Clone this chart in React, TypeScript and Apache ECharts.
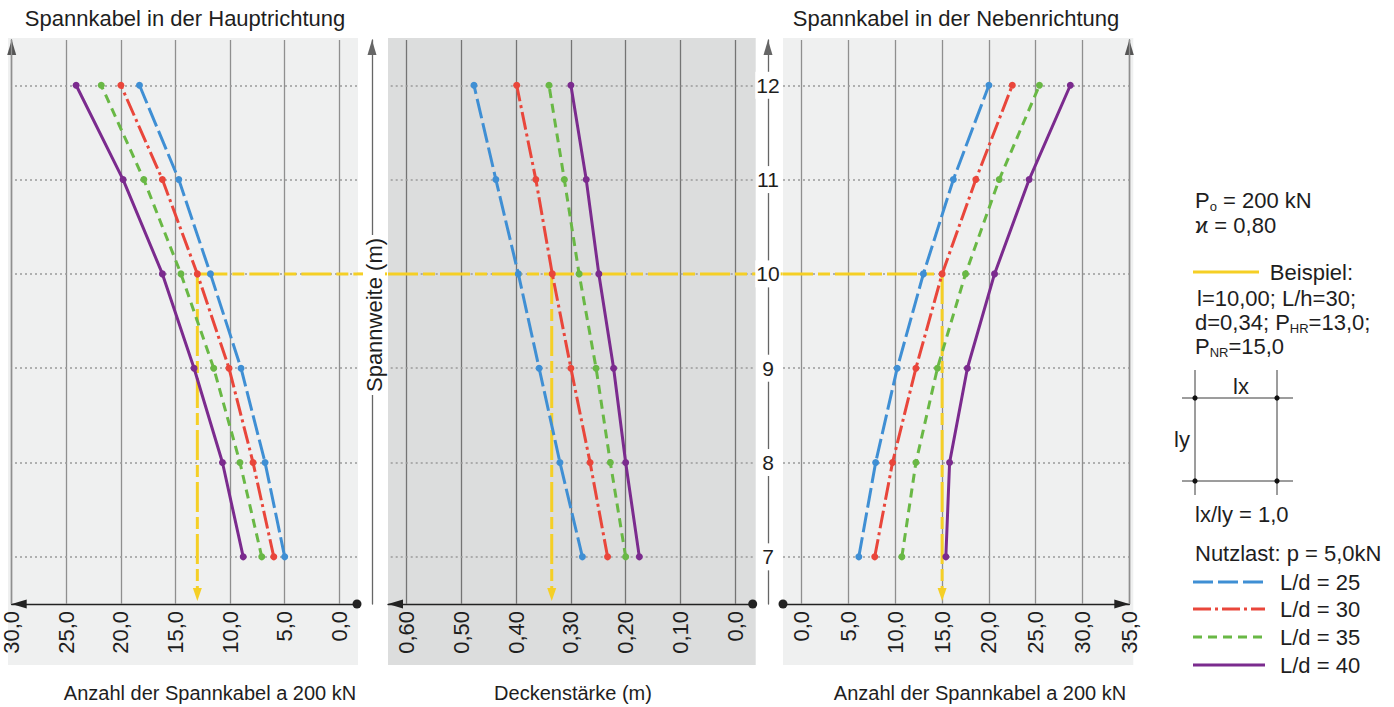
import React, { useEffect, useRef } from 'react';
import * as echarts from 'echarts';

// ---------------- data ----------------
const spans = [7, 8, 9, 10, 11, 12];
const spanTicks = [7, 8, 9, 10, 11, 12];
const leftTicks = [0, 5, 10, 15, 20, 25, 30];
const midTicks = [0, 0.1, 0.2, 0.3, 0.4, 0.5, 0.6];
const rightTicks = [0, 5, 10, 15, 20, 25, 30, 35];

const legendNames = ['L/d = 25', 'L/d = 30', 'L/d = 35', 'L/d = 40'];

// Spannkabel in der Hauptrichtung (count)
const hr25 = [5.0, 6.8, 9.0, 11.8, 14.7, 18.3];
const hr30 = [6.0, 7.9, 10.1, 13.0, 16.2, 20.0];
const hr35 = [7.1, 9.1, 11.5, 14.5, 17.9, 21.8];
const hr40 = [8.8, 10.7, 13.3, 16.2, 19.8, 24.1];

// Deckenstärke (m)
const d25 = [0.279, 0.32, 0.358, 0.396, 0.437, 0.477];
const d30 = [0.233, 0.265, 0.3, 0.334, 0.364, 0.399];
const d35 = [0.2, 0.228, 0.254, 0.285, 0.312, 0.34];
const d40 = [0.175, 0.2, 0.222, 0.249, 0.272, 0.3];

// Spannkabel in der Nebenrichtung (count)
const nr25 = [6.1, 7.9, 10.2, 13.0, 16.2, 20.0];
const nr30 = [7.8, 9.7, 12.2, 15.0, 18.6, 22.5];
const nr35 = [10.7, 12.2, 14.5, 17.5, 21.1, 25.4];
const nr40 = [15.4, 15.8, 17.7, 20.6, 24.3, 28.7];

// Beispiel
const exSpan = 10;
const exHR = 13.0;
const exD = 0.335;
const exNR = 15.0;
const exArrowTo = 6.6;

// ---------------- styles / layout ----------------
const FONT = '"Liberation Sans", Arial, Helvetica, sans-serif';
const TXT = '#1e1e1e';
const colors = ['#3f8fd4', '#e9463b', '#69b845', '#7b2b8e'];
const dashes: any[] = [[20, 5], [18, 4, 3, 4], [9, 6], 'solid'];
const yellow = '#f5cf25';
const yellowDash = [30, 5, 12, 5];
const dotSym = 'path://M10,0A10,10,0,1,1,-10,0A10,10,0,1,1,10,0Z';

const Y_MIN = 6.5;
const Y_MAX = 12.48;
const TOP = 40;
const H = 564;

const panels = [
  { left: 11.7, width: 345.3, min: -1.62, max: 30, inverse: true, ticks: leftTicks, dec: 1,
    data: [hr25, hr30, hr35, hr40], ex: exHR, yIdx: 0, gridColor: '#8f8f8f', bg: '#eff0f0',
    sym: ['triangle', dotSym], symOff: [7.5, 0] },
  { left: 388, width: 364.7, min: -0.032, max: 0.634, inverse: true, ticks: midTicks, dec: 2,
    data: [d25, d30, d35, d40], ex: exD, yIdx: 1, gridColor: '#747474', bg: '#dcdddd',
    sym: ['triangle', dotSym], symOff: [7.5, 0] },
  { left: 783, width: 346.3, min: -2, max: 35, inverse: false, ticks: rightTicks, dec: 1,
    data: [nr25, nr30, nr35, nr40], ex: exNR, yIdx: 3, gridColor: '#8f8f8f', bg: '#eff0f0',
    sym: [dotSym, 'triangle'], symOff: [0, -7.5] },
];

function fmt(dec: number) {
  return (v: number) => (Math.abs(v) < 1e-9 ? '0,0' : v.toFixed(dec).replace('.', ','));
}

function txt(id: string, x: number, y: number, text: string, size = 22, align = 'left', extra: any = {}) {
  return {
    type: 'text', id, x, y, z: 5,
    style: { text, fontSize: size, fontFamily: FONT, fill: TXT, align, verticalAlign: 'middle',
      textAlign: align, textVerticalAlign: 'middle', ...extra },
  };
}

function rich(id: string, x: number, y: number, text: string, size = 22) {
  return {
    type: 'text', id, x, y, z: 5,
    style: {
      text, fontFamily: FONT, fill: TXT, fontSize: size, align: 'left', verticalAlign: 'middle',
      textAlign: 'left', textVerticalAlign: 'middle',
      rich: {
        m: { fontSize: size, fontFamily: FONT, fill: TXT, lineHeight: 26 },
        s: { fontSize: 13, fontFamily: FONT, fill: TXT, lineHeight: 13, verticalAlign: 'bottom' },
      },
    },
  };
}

function buildOption() {
  const grid = panels.map((p) => ({ left: p.left, top: TOP, width: p.width, height: H, containLabel: false }));

  const xAxis = panels.map((p, i) => ({
    type: 'value', gridIndex: i, min: p.min, max: p.max, inverse: p.inverse,
    axisLine: { show: true, onZero: false, lineStyle: { color: '#222', width: 1.3 },
      symbol: p.sym, symbolSize: [9, 15], symbolOffset: p.symOff },
    axisTick: { show: false },
    splitLine: { show: false },
    axisLabel: { customValues: p.ticks, rotate: 90, margin: 7, fontSize: 22, color: TXT,
      fontFamily: FONT, formatter: fmt(p.dec) },
  }));

  const yBase = {
    type: 'value', min: Y_MIN, max: Y_MAX,
    axisTick: { show: false }, splitLine: { show: false },
    axisLabel: { show: false },
  };
  const yLine = (color: string) => ({ show: true, onZero: false, lineStyle: { color, width: 1.3 },
    symbol: ['none', 'triangle'], symbolSize: [9, 15], symbolOffset: [0, -7.5] });
  const yAxis = [
    { ...yBase, gridIndex: 0, position: 'left', axisLine: yLine('#555') },
    { ...yBase, gridIndex: 1, position: 'left', offset: 16, axisLine: yLine('#666') },
    { ...yBase, gridIndex: 1, position: 'right', offset: 15.3, axisLine: yLine('#666'),
      axisLabel: { show: true, customValues: spanTicks, align: 'center', margin: 0, fontSize: 21,
        color: TXT, fontFamily: FONT, backgroundColor: '#fff', padding: [3, 1] } },
    { ...yBase, gridIndex: 2, position: 'right', axisLine: yLine('#555') },
  ];

  const series: any[] = [];
  panels.forEach((p, pi) => {
    const hStart = pi === 1 ? p.max : pi === 0 ? p.ex : p.min;
    const hEnd = pi === 1 ? p.min : pi === 0 ? p.min : p.ex;
    series.push({
      type: 'line', name: 'Beispiel', xAxisIndex: pi, yAxisIndex: p.yIdx, z: 2,
      data: [[hStart, exSpan], [hEnd, exSpan]], symbol: 'none', silent: true,
      lineStyle: { color: yellow, width: 3, type: yellowDash },
      markLine: {
        silent: true, symbol: 'none', z: 1, animation: false, label: { show: false },
        emphasis: { disabled: true },
        data: [
          ...p.ticks.map((v) => ({ xAxis: v, lineStyle: { color: p.gridColor, width: 1.3, type: 'solid' } })),
          ...spanTicks.map((v) => ({ yAxis: v, lineStyle: { color: '#9a9a9a', width: 1.6, type: [2, 3] } })),
        ],
      },
    });
    series.push({
      type: 'line', name: 'Beispiel', xAxisIndex: pi, yAxisIndex: p.yIdx, z: 2, silent: true,
      symbol: 'circle', symbolSize: 0,
      data: [
        { value: [p.ex, exSpan], symbol: 'none' },
        { value: [p.ex, exArrowTo], symbol: 'triangle', symbolRotate: 180, symbolSize: [9, 13],
          itemStyle: { color: yellow } },
      ],
      lineStyle: { color: yellow, width: 3, type: yellowDash },
      itemStyle: { color: yellow },
    });
    p.data.forEach((vals, i) => {
      series.push({
        type: 'line', name: legendNames[i], xAxisIndex: pi, yAxisIndex: p.yIdx, z: 3,
        data: vals.map((v, k) => [v, spans[k]]),
        symbol: 'circle', symbolSize: 7, showSymbol: true,
        lineStyle: { color: colors[i], width: 3, type: dashes[i] },
        itemStyle: { color: colors[i] },
        emphasis: { disabled: true },
      });
    });
  });

  const elements: any[] = [];
  panels.forEach((p, i) => {
    const l = i === 0 ? 8 : p.left;
    const r = i === 1 ? p.left + p.width + 3 : i === 2 ? p.left + p.width + 4 : p.left + p.width + 1;
    elements.push({ type: 'rect', id: 'bg' + i, z: -10, shape: { x: l, y: 38, width: r - l, height: 627 },
      style: { fill: p.bg } });
  });
  elements.push(txt('t1', 185, 18, 'Spannkabel in der Hauptrichtung', 22, 'center'));
  elements.push(txt('t2', 956, 18, 'Spannkabel in der Nebenrichtung', 22, 'center'));
  elements.push(txt('b1', 210, 693, 'Anzahl der Spannkabel a 200 kN', 20, 'center'));
  elements.push(txt('b2', 573, 693, 'Deckenstärke (m)', 20, 'center'));
  elements.push(txt('b3', 980, 693, 'Anzahl der Spannkabel a 200 kN', 20, 'center'));

  elements.push({
    type: 'text', id: 'spw', x: 374, y: 315, rotation: Math.PI / 2, z: 6,
    style: { text: 'Spannweite (m)', fontSize: 22, fontFamily: FONT, fill: TXT,
      align: 'center', verticalAlign: 'middle', textAlign: 'center', textVerticalAlign: 'middle',
      backgroundColor: '#ffffff', padding: [0, 3] },
  });

  elements.push(rich('po', 1195, 200, '{m|P}{s|o}{m| = 200 kN}'));
  elements.push(txt('kap', 1195, 225, 'ϰ = 0,80'));
  elements.push({ type: 'line', id: 'yl', z: 5, shape: { x1: 1193, y1: 272, x2: 1259, y2: 272 },
    style: { stroke: yellow, lineWidth: 3 } });
  elements.push(txt('bsp', 1353, 272, 'Beispiel:', 22, 'right'));
  elements.push(txt('bsp1', 1197, 298, 'l=10,00; L/h=30;'));
  elements.push(rich('bsp2', 1195, 322, '{m|d=0,34; P}{s|HR}{m|=13,0;}'));
  elements.push(rich('bsp3', 1195, 346, '{m|P}{s|NR}{m|=15,0}'));

  const boxLine = (id: string, x1: number, y1: number, x2: number, y2: number) => ({
    type: 'line', id, z: 5, shape: { x1, y1, x2, y2 }, style: { stroke: '#3a3a3a', lineWidth: 1 } });
  elements.push(boxLine('bx1', 1182, 398, 1293, 398));
  elements.push(boxLine('bx2', 1182, 481, 1293, 481));
  elements.push(boxLine('bx3', 1195, 370, 1195, 495));
  elements.push(boxLine('bx4', 1277, 370, 1277, 495));
  [[1195, 398], [1277, 398], [1195, 481], [1277, 481]].forEach(([cx, cy], k) => {
    elements.push({ type: 'circle', id: 'bd' + k, z: 6, shape: { cx, cy, r: 2.6 }, style: { fill: '#111' } });
  });
  elements.push(txt('lx', 1241, 386, 'lx', 22, 'center'));
  elements.push(txt('ly', 1182, 439, 'ly', 22, 'center'));
  elements.push(txt('lxly', 1195, 514, 'lx/ly = 1,0'));
  elements.push(txt('nutz', 1195, 553, 'Nutzlast: p = 5,0kN'));

  const legY = [582, 609, 637, 665];
  legendNames.forEach((n, i) => {
    elements.push({ type: 'line', id: 'lg' + i, z: 5, shape: { x1: 1193, y1: legY[i], x2: 1265, y2: legY[i] },
      style: { stroke: colors[i], lineWidth: 3, lineDash: dashes[i] === 'solid' ? null : dashes[i] } });
    elements.push(txt('lgt' + i, 1280, legY[i], n));
  });

  return {
    animation: false,
    backgroundColor: '#ffffff',
    textStyle: { fontFamily: FONT },
    grid, xAxis, yAxis, series,
    graphic: { elements },
  };
}

export default function App() {
  const ref = useRef<HTMLDivElement>(null);
  useEffect(() => {
    if (!ref.current) return;
    const chart = echarts.init(ref.current, undefined, { renderer: 'svg' });
    chart.setOption(buildOption() as any);
    const px = (xi: number, yi: number, x: number, y: number) =>
      chart.convertToPixel({ xAxisIndex: xi, yAxisIndex: yi } as any, [x, y]) as unknown as number[];
    const a = px(0, 0, panels[0].min, exSpan);
    const b = px(1, 1, panels[1].max, exSpan);
    const c = px(1, 1, panels[1].min, exSpan);
    const d = px(2, 3, panels[2].min, exSpan);
    if (a && b && c && d) {
      chart.setOption({
        graphic: {
          elements: [
            { type: 'line', id: 'gap1', z: -1, shape: { x1: a[0], y1: a[1], x2: b[0], y2: b[1] },
              style: { stroke: yellow, lineWidth: 3, lineDash: yellowDash } },
            { type: 'line', id: 'gap2', z: -1, shape: { x1: c[0], y1: c[1], x2: d[0], y2: d[1] },
              style: { stroke: yellow, lineWidth: 3, lineDash: yellowDash } },
          ],
        },
      } as any);
    }
    return () => chart.dispose();
  }, []);
  return (
    <div
      ref={ref}
      style={{ position: 'absolute', left: 0, top: 0, width: 1394, height: 707, background: '#fff' }}
    />
  );
}
